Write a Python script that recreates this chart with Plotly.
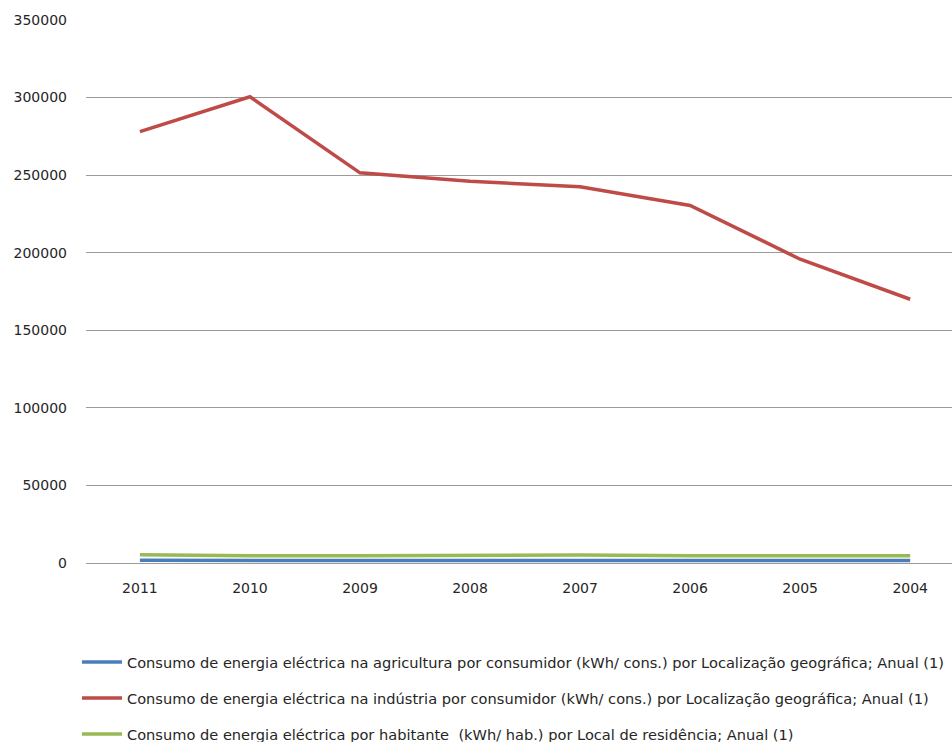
import plotly.graph_objects as go

# Anos (eixo categórico, do mais recente para o mais antigo)
anos = ["2011", "2010", "2009", "2008", "2007", "2006", "2005", "2004"]

# Séries
agricultura = [1700, 1600, 1600, 1650, 1650, 1600, 1600, 1600]
industria = [278000, 300500, 251500, 246000, 242500, 230500, 195800, 170000]
habitante = [5300, 4700, 4700, 5100, 5100, 4700, 4700, 4700]

nomes = [
    "Consumo de energia eléctrica na agricultura por consumidor (kWh/ cons.) por Localização geográfica; Anual (1)",
    "Consumo de energia eléctrica na indústria por consumidor (kWh/ cons.) por Localização geográfica; Anual (1)",
    "Consumo de energia eléctrica por habitante  (kWh/ hab.) por Local de residência; Anual (1)",
]
cores = ["#4A7EBB", "#BE4B48", "#98B954"]

y_ticks = [0, 50000, 100000, 150000, 200000, 250000, 300000, 350000]

fig = go.Figure()
for i, (serie, nome, cor) in enumerate(zip([agricultura, industria, habitante], nomes, cores)):
    fig.add_trace(go.Scatter(
        x=anos, y=serie, mode="lines", name=nome,
        line=dict(color=cor, width=3.5),
        legendgroup=f"g{i}",
    ))

FAMILIA = "DejaVu Sans, Verdana, sans-serif"
fonte = dict(family=FAMILIA, size=14, color="#262626")
fonte_legenda = dict(family=FAMILIA, size=14.6, color="#262626")

# legenda presa ao contentor, por baixo da área do gráfico
legenda_topo_px = 646
fig.update_layout(
    width=952, height=742,
    margin=dict(l=86, r=0, t=20, b=179),
    plot_bgcolor="white", paper_bgcolor="white",
    font=fonte,
    showlegend=True,
    legend=dict(
        orientation="v",
        xref="paper", x=-0.0104, xanchor="left",
        yref="container", y=(742 - legenda_topo_px) / 742, yanchor="top",
        traceorder="grouped", tracegroupgap=14,
        font=fonte_legenda, itemwidth=40,
    ),
    xaxis=dict(
        type="category", range=[-0.49, 7.38], automargin=False,
        showgrid=False, showline=True, linecolor="#9a9a9a", linewidth=1,
        ticks="", tickfont=fonte, ticklabelstandoff=12,
    ),
    yaxis=dict(
        range=[0, 350000], tickvals=y_ticks, ticktext=[str(v) for v in y_ticks],
        automargin=False,
        showgrid=True, gridcolor="#9a9a9a", gridwidth=1,
        showline=False, zeroline=False, ticks="", tickfont=fonte,
        ticklabelstandoff=18,
    ),
)

fig.write_html("out.html")
